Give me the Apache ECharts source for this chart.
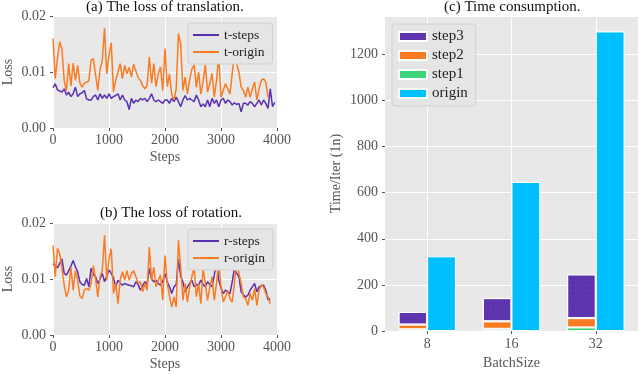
<!DOCTYPE html>
<html>
<head>
<meta charset="utf-8">
<script src="https://cdn.jsdelivr.net/npm/echarts@6/dist/echarts.min.js"></script>
<style>
  html, body { margin: 0; padding: 0; background: #fff; }
  #chart { width: 640px; height: 375px; }
</style>
</head>
<body>
<div id="chart"></div>
<script>
// loss curves, sampled every 40 steps, values in units of 1e-3
const steps = Array.from({ length: 100 }, (_, i) => i * 40);

const tSteps = [
  7.2, 7.9, 6.8, 6.6, 6.4, 7.0, 5.9, 6.4, 5.6, 6.1,
  7.3, 5.6, 6.1, 6.3, 6.7, 5.2, 5.0, 5.0, 5.6, 5.9,
  5.0, 6.1, 5.3, 5.9, 5.3, 6.1, 5.3, 5.6, 5.8, 6.1,
  5.0, 5.9, 5.0, 4.7, 3.3, 5.3, 4.4, 5.0, 4.7, 5.3,
  5.0, 5.3, 4.7, 5.3, 6.1, 5.0, 4.7, 5.0, 4.7, 4.4,
  5.0, 5.0, 4.4, 5.3, 4.7, 5.5, 4.7, 3.8, 5.0, 5.8,
  5.0, 5.3, 5.0, 4.7, 5.9, 5.0, 3.8, 4.3, 3.8, 5.0,
  3.8, 5.3, 4.4, 5.0, 3.8, 5.0, 5.3, 4.4, 5.0, 4.7,
  4.1, 4.5, 4.2, 4.4, 2.9, 4.4, 4.4, 4.1, 4.7, 4.4,
  3.8, 4.4, 5.0, 4.1, 5.0, 4.4, 3.5, 7.0, 3.8, 4.6
];
const tOrigin = [
  16.0, 8.8, 12.5, 15.4, 14.0, 8.5, 6.6, 11.5, 7.5, 11.6,
  8.5, 11.2, 8.0, 7.3, 8.0, 8.2, 8.4, 12.1, 12.4, 9.5,
  6.7, 10.5, 12.0, 17.8, 9.7, 13.0, 15.2, 6.5, 8.5, 10.0,
  11.5, 8.8, 11.2, 9.7, 10.8, 9.1, 11.4, 10.2, 9.0, 8.5,
  7.6, 7.0, 7.6, 12.7, 8.0, 11.5, 7.4, 9.7, 10.9, 6.7,
  14.2, 7.4, 9.6, 6.0, 5.0, 7.0, 16.9, 15.0, 6.7, 9.1,
  6.1, 8.6, 10.5, 11.3, 7.3, 10.0, 6.1, 8.2, 11.3, 6.4,
  7.9, 9.7, 5.5, 8.5, 13.0, 5.5, 6.7, 7.9, 7.0, 6.1,
  9.7, 13.3, 11.5, 10.0, 7.3, 6.7, 5.5, 7.3, 5.5, 7.0,
  8.2, 5.0, 7.0, 8.5, 8.8, 8.2, 5.5, null, null, null
];
const rSteps = [
  12.7, 12.4, 12.0, 12.8, 13.6, 11.0, 10.7, 11.5, 12.3, 13.3,
  12.2, 11.3, 9.5, 9.0, 8.9, 10.1, 8.6, 11.9, 10.8, 10.4,
  9.2, 10.0, 11.0, 9.5, 10.5, 11.6, 11.0, 10.2, 8.6, 9.8,
  9.3, 8.9, 9.2, 9.0, 8.9, 8.8, 8.6, 9.5, 9.0, 8.0,
  8.8, 9.5, 9.0, 11.9, 10.0, 9.5, 9.8, 9.2, 8.9, 9.6,
  11.0, 9.5, 8.6, 7.4, 8.6, 9.0, 13.5, 10.5, 9.5, 7.7,
  8.6, 9.2, 9.8, 8.6, 9.0, 8.9, 9.8, 9.0, 8.6, 9.5,
  9.0, 8.6, 10.7, 13.1, 9.8, 8.4, 7.4, 8.0, 7.7, 7.4,
  9.5, 11.9, 11.0, 10.4, 7.7, 7.2, 6.8, 7.1, 8.0, 8.6,
  9.2, 7.7, 8.6, 8.8, 8.9, 8.0, 6.3, 6.5, null, null
];
const rOrigin = [
  16.0, 10.4, 15.5, 14.5, 11.8, 8.9, 6.8, 8.0, 12.1, 8.0,
  11.5, 9.8, 7.0, 6.5, 8.0, 8.3, 8.0, 9.2, 12.4, 10.0,
  6.8, 10.4, 11.5, 17.8, 9.8, 13.6, 15.4, 7.4, 9.2, 5.6,
  9.8, 11.3, 9.8, 11.5, 9.8, 11.0, 11.5, 10.4, 9.2, 9.5,
  7.7, 9.2, 8.0, 15.7, 9.8, 12.1, 8.6, 9.8, 10.7, 6.2,
  14.2, 9.2, 7.0, 5.0, 6.8, 5.0, 16.9, 12.1, 6.2, 9.2,
  5.9, 8.6, 10.4, 12.1, 6.8, 9.2, 5.6, 12.0, 9.2, 6.2,
  8.6, 10.4, 6.2, 9.2, 13.6, 8.6, 5.9, 6.8, 8.0, 6.5,
  5.9, 9.2, 13.6, 11.0, 9.2, 6.8, 6.5, 5.3, 7.4, 6.2,
  8.3, 5.3, 8.0, 8.9, 8.6, 7.4, 6.8, 5.6, null, null
];

// time consumption per batch size
const batchSizes = ['8', '16', '32'];
const step1 = [8, 10, 16];
const step2 = [20, 32, 40];
const step3 = [55, 101, 190];
const origin = [324, 646, 1298];

const serif = 'Liberation Serif';
const gray = '#555';
const bg = '#E8E8E8';
const purple = '#5B2FB2';
const orange = '#FA7B22';

function pts(vals) {
  const out = [];
  vals.forEach((v, i) => { if (v !== null) out.push([steps[i], v / 1000]); });
  return out;
}

function lossX(idx) {
  return {
    type: 'value', gridIndex: idx, min: 0, max: 4000, interval: 1000,
    name: 'Steps', nameLocation: 'middle', nameGap: 22,
    nameTextStyle: { fontFamily: serif, fontSize: 14, color: gray },
    axisLine: { show: false },
    axisTick: { show: true, length: 3, lineStyle: { color: gray } },
    axisLabel: { fontFamily: serif, fontSize: 14, color: gray, margin: 5, formatter: v => String(v) },
    splitLine: { lineStyle: { color: '#fff', width: 1 } }
  };
}
function lossY(idx) {
  return {
    type: 'value', gridIndex: idx, min: 0, max: 0.02, interval: 0.01,
    name: 'Loss', nameLocation: 'middle', nameGap: 38,
    nameTextStyle: { fontFamily: serif, fontSize: 14, color: gray },
    axisLine: { show: false },
    axisTick: { show: true, length: 3, lineStyle: { color: gray } },
    axisLabel: { fontFamily: serif, fontSize: 14, color: gray, margin: 7,
      formatter: v => v.toFixed(2) },
    splitLine: { lineStyle: { color: '#fff', width: 1 } }
  };
}
function lineSeries(name, idx, vals, color) {
  return {
    name: name, type: 'line', xAxisIndex: idx, yAxisIndex: idx,
    data: pts(vals), showSymbol: false, animation: false,
    lineStyle: { color: color, width: 1.5 }, itemStyle: { color: color }
  };
}
function lossLegend(names, top) {
  return {
    data: names, orient: 'vertical', left: 188, top: top,
    icon: 'rect', itemWidth: 26, itemHeight: 2, itemGap: 3,
    backgroundColor: '#E5E5E5', borderColor: '#D0D0D0', borderWidth: 1, borderRadius: 3,
    padding: [5, 8, 5, 5],
    textStyle: { fontFamily: serif, fontSize: 13.5, color: '#222' }
  };
}

const chart = echarts.init(document.getElementById('chart'));
const option = {
  animation: false,
  grid: [
    { left: 52, top: 16, width: 225, height: 112, show: true, backgroundColor: bg, borderWidth: 0 },
    { left: 52, top: 223, width: 225, height: 112, show: true, backgroundColor: bg, borderWidth: 0 },
    { left: 385, top: 16, width: 253, height: 319, show: true, backgroundColor: bg, borderWidth: 0 }
  ],
  xAxis: [
    lossX(0), lossX(1),
    {
      type: 'category', gridIndex: 2, data: batchSizes,
      name: 'BatchSize', nameLocation: 'middle', nameGap: 21,
      nameTextStyle: { fontFamily: serif, fontSize: 14, color: gray },
      axisLine: { show: false },
      axisTick: { show: true, length: 3, alignWithLabel: true, lineStyle: { color: gray } },
      axisLabel: { fontFamily: serif, fontSize: 14, color: gray, margin: 6 },
      splitLine: { show: true, alignWithLabel: true, lineStyle: { color: '#fff', width: 1 } }
    }
  ],
  yAxis: [
    lossY(0), lossY(1),
    {
      type: 'value', gridIndex: 2, min: 0, max: 1365, interval: 200,
      name: 'Time/Iter (1n)', nameLocation: 'middle', nameGap: 42,
      nameTextStyle: { fontFamily: serif, fontSize: 14, color: gray },
      axisLine: { show: false },
      axisTick: { show: true, length: 3, lineStyle: { color: gray } },
      axisLabel: { fontFamily: serif, fontSize: 14, color: gray, margin: 7, showMaxLabel: false,
        formatter: v => String(v) },
      splitLine: { lineStyle: { color: '#fff', width: 1 } }
    }
  ],
  legend: [
    lossLegend(['t-steps', 't-origin'], 23),
    lossLegend(['r-steps', 'r-origin'], 229),
    {
      data: ['step3', 'step2', 'step1', 'origin'], orient: 'vertical', left: 392, top: 24,
      icon: 'rect', itemWidth: 28, itemHeight: 9, itemGap: 4,
      backgroundColor: '#E5E5E5', borderColor: '#D0D0D0', borderWidth: 1, borderRadius: 3,
      padding: [5, 8, 5, 6],
      textStyle: { fontFamily: serif, fontSize: 15, color: '#222' }
    }
  ],
  graphic: [
    { type: 'text', left: 86, top: 0, style: { text: '(a) The loss of translation.', font: '15px "Liberation Serif"', fill: '#111' } },
    { type: 'text', left: 100, top: 206, style: { text: '(b) The loss of rotation.', font: '15px "Liberation Serif"', fill: '#111' } },
    { type: 'text', left: 444, top: 0, style: { text: '(c) Time consumption.', font: '15px "Liberation Serif"', fill: '#111' } }
  ],
  series: [
    lineSeries('t-steps', 0, tSteps, purple),
    lineSeries('t-origin', 0, tOrigin, orange),
    lineSeries('r-steps', 1, rSteps, purple),
    lineSeries('r-origin', 1, rOrigin, orange),
    { name: 'step1', type: 'bar', xAxisIndex: 2, yAxisIndex: 2, stack: 'steps', data: step1,
      barWidth: 28.7, barGap: '0%', itemStyle: { color: '#3DD47B', borderColor: '#fff', borderWidth: 1 } },
    { name: 'step2', type: 'bar', xAxisIndex: 2, yAxisIndex: 2, stack: 'steps', data: step2,
      barWidth: 28.7, barGap: '0%', itemStyle: { color: orange, borderColor: '#fff', borderWidth: 1 } },
    { name: 'step3', type: 'bar', xAxisIndex: 2, yAxisIndex: 2, stack: 'steps', data: step3,
      barWidth: 28.7, barGap: '0%', itemStyle: { color: '#5E33AE', borderColor: '#fff', borderWidth: 1,
        decal: { symbol: 'rect', symbolSize: 1, dashArrayX: [[1, 4]], dashArrayY: [1, 4],
          color: 'rgba(130,100,200,0.35)' } } },
    { name: 'origin', type: 'bar', xAxisIndex: 2, yAxisIndex: 2, data: origin,
      barWidth: 28.7, barGap: '0%', itemStyle: { color: '#00BFFF', borderColor: '#fff', borderWidth: 1 } }
  ]
};
chart.setOption(option);
</script>
</body>
</html>
